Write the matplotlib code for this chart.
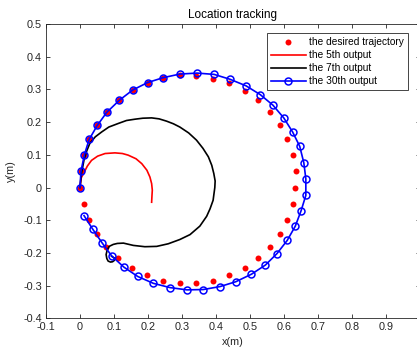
import matplotlib
matplotlib.use("Agg")
import matplotlib.pyplot as plt

plt.rcParams['font.family'] = ['Liberation Sans', 'DejaVu Sans']

# desired trajectory (red dots)
desired_x = [0.0, 0.003, 0.013, 0.027, 0.051, 0.079, 0.116, 0.155, 0.199, 0.245,
             0.294, 0.343, 0.392, 0.44, 0.485, 0.524, 0.559, 0.589, 0.611, 0.628,
             0.635, 0.634, 0.628, 0.611, 0.589, 0.559, 0.525, 0.485, 0.44, 0.392,
             0.343, 0.294, 0.245, 0.198, 0.153, 0.113, 0.077, 0.049, 0.026, 0.012]
desired_y = [0.0, 0.05, 0.099, 0.147, 0.19, 0.23, 0.267, 0.298, 0.321, 0.336,
             0.344, 0.342, 0.333, 0.319, 0.295, 0.267, 0.231, 0.19, 0.147, 0.1,
             0.05, 0.0, -0.049, -0.098, -0.141, -0.182, -0.217, -0.247, -0.269, -0.286,
             -0.293, -0.293, -0.286, -0.269, -0.246, -0.216, -0.182, -0.141, -0.098, -0.049]

# 5th output (red line)
out5_x = [0.0, 0.004, 0.013, 0.022, 0.034, 0.052, 0.074, 0.103, 0.125, 0.142, 0.165,
          0.182, 0.197, 0.206, 0.211, 0.213, 0.212, 0.211]
out5_y = [0.0, 0.03, 0.048, 0.066, 0.083, 0.096, 0.104, 0.106, 0.104, 0.099, 0.088,
          0.073, 0.053, 0.032, 0.012, -0.008, -0.025, -0.045]

# 7th output (black line)
out7_x = [0.0, 0.004, 0.012, 0.02, 0.029, 0.045, 0.064, 0.085, 0.113, 0.137, 0.162,
          0.185, 0.211, 0.233, 0.255, 0.275, 0.294, 0.32, 0.343, 0.362, 0.378,
          0.388, 0.394, 0.398, 0.397, 0.392, 0.383, 0.373, 0.353, 0.324, 0.294,
          0.26, 0.226, 0.191, 0.157, 0.128, 0.11, 0.098, 0.086, 0.08, 0.077,
          0.079, 0.083, 0.09, 0.096, 0.101, 0.103, 0.093]
out7_y = [0.0, 0.04, 0.085, 0.112, 0.135, 0.155, 0.17, 0.185, 0.196, 0.205, 0.209,
          0.212, 0.213, 0.21, 0.203, 0.195, 0.185, 0.167, 0.145, 0.12, 0.094,
          0.068, 0.043, 0.02, 0.0, -0.039, -0.065, -0.088, -0.118, -0.144, -0.159,
          -0.172, -0.18, -0.181, -0.177, -0.17, -0.171, -0.174, -0.18, -0.192, -0.205,
          -0.217, -0.225, -0.228, -0.227, -0.223, -0.217, -0.21]

# 30th output (blue line with circles)
out30_x = [0.0, 0.003, 0.013, 0.027, 0.051, 0.079, 0.116, 0.155, 0.199, 0.245,
           0.294, 0.345, 0.395, 0.442, 0.489, 0.531, 0.568, 0.6, 0.626, 0.647,
           0.659, 0.665, 0.665, 0.651, 0.634, 0.61, 0.58, 0.546, 0.505, 0.459,
           0.412, 0.363, 0.315, 0.265, 0.216, 0.17, 0.13, 0.094, 0.065, 0.038, 0.012]
out30_y = [0.0, 0.05, 0.1, 0.147, 0.19, 0.23, 0.267, 0.298, 0.321, 0.336,
           0.347, 0.35, 0.346, 0.331, 0.311, 0.284, 0.252, 0.213, 0.17, 0.126,
           0.076, 0.027, -0.024, -0.071, -0.118, -0.162, -0.202, -0.237, -0.265, -0.288,
           -0.303, -0.312, -0.313, -0.306, -0.293, -0.272, -0.244, -0.21, -0.169, -0.128, -0.086]

xticks = [-0.1, 0, 0.1, 0.2, 0.3, 0.4, 0.5, 0.6, 0.7, 0.8, 0.9, 1.0]
xticklabels = ['-0.1', '0', '0.1', '0.2', '0.3', '0.4', '0.5', '0.6', '0.7', '0.8', '0.9', '']
yticks = [-0.4, -0.3, -0.2, -0.1, 0, 0.1, 0.2, 0.3, 0.4, 0.5]
yticklabels = ['-0.4', '-0.3', '-0.2', '-0.1', '0', '0.1', '0.2', '0.3', '0.4', '0.5']

txt = '#262626'
fig = plt.figure(figsize=(4.17, 3.52), dpi=100)
ax = fig.add_axes([0.1103, 0.0957, 0.896, 0.836])

ax.plot(desired_x, desired_y, 'o', color='red', markersize=4.3, markeredgewidth=0,
        label='the desired trajectory', zorder=2)
ax.plot(out5_x, out5_y, '-', color='red', linewidth=1.2, label='the 5th output', zorder=3)
ax.plot(out7_x, out7_y, '-', color='black', linewidth=1.2, label='the 7th output', zorder=3)
ax.plot(out30_x, out30_y, '-o', color='blue', linewidth=1.2, markersize=5,
        markerfacecolor='none', markeredgewidth=1.1, label='the 30th output', zorder=4)

ax.set_xlim(-0.1, 1.0)
ax.set_ylim(-0.4, 0.5)
ax.set_xticks(xticks)
ax.set_xticklabels(xticklabels)
ax.set_yticks(yticks)
ax.set_yticklabels(yticklabels)
ax.tick_params(direction='in', length=3, width=0.6, top=True, right=True,
               labelsize=7.8, colors=txt, pad=3)
for s in ax.spines.values():
    s.set_linewidth(0.6)
    s.set_color(txt)

ax.set_title('Location tracking', fontsize=8.5, color='black', pad=4)
ax.set_xlabel('x(m)', fontsize=7.8, color=txt, labelpad=3)
ax.set_ylabel('y(m)', fontsize=7.8, color=txt, labelpad=5)

leg = ax.legend(loc='upper right', bbox_to_anchor=(0.969, 0.969), fontsize=7.3,
                fancybox=False, framealpha=1, edgecolor=txt, handlelength=3.4,
                handletextpad=0.35, borderpad=0.4, labelspacing=0.3, borderaxespad=0)
leg.get_frame().set_linewidth(0.6)

fig.savefig('out.png', dpi=100)
